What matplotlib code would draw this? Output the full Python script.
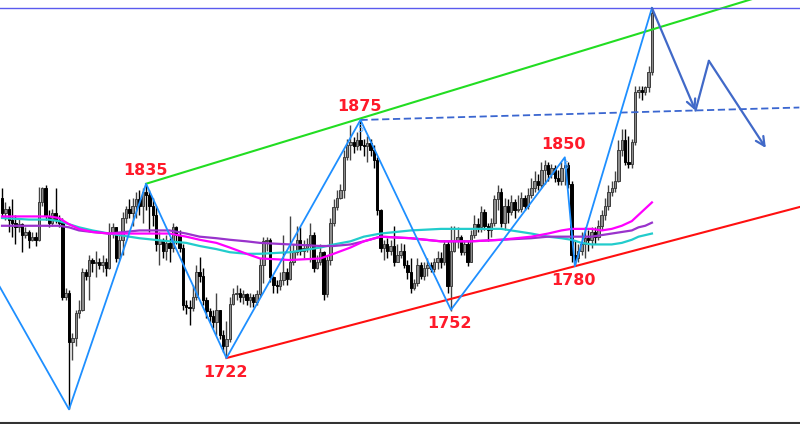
import numpy as np
import matplotlib
matplotlib.use('Agg')
import matplotlib.pyplot as plt

# Dados das velas (preco), abertura da primeira vela e fechamentos / maximas / minimas
first_open = 1825
closes = [1815, 1818, 1811, 1809, 1806, 1808, 1801, 1803, 1798, 1800,
          1798, 1822, 1831, 1813, 1809, 1815, 1811, 1809, 1761, 1764,
          1732, 1735, 1751, 1753, 1777, 1775, 1785, 1783, 1784, 1782,
          1784, 1780, 1802, 1806, 1786, 1798, 1812, 1818, 1815, 1820,
          1824, 1820, 1829, 1827, 1820, 1814, 1795, 1798, 1791, 1796,
          1793, 1806, 1801, 1793, 1756, 1755, 1754, 1761, 1777, 1775,
          1759, 1752, 1749, 1745, 1753, 1737, 1730, 1734, 1757, 1763,
          1764, 1761, 1763, 1759, 1761, 1758, 1763, 1782, 1797, 1798,
          1774, 1769, 1768, 1772, 1777, 1773, 1784, 1790, 1798, 1791,
          1793, 1795, 1801, 1780, 1784, 1790, 1763, 1785, 1809, 1819,
          1825, 1830, 1851, 1859, 1861, 1858, 1862, 1859, 1858, 1860,
          1856, 1849, 1817, 1793, 1795, 1791, 1794, 1784, 1788, 1791,
          1782, 1777, 1767, 1770, 1782, 1775, 1780, 1782, 1779, 1784,
          1786, 1784, 1795, 1768, 1791, 1797, 1800, 1790, 1795, 1784,
          1801, 1808, 1806, 1816, 1807, 1804, 1809, 1824, 1829, 1809,
          1820, 1816, 1822, 1817, 1818, 1825, 1820, 1827, 1831, 1836,
          1833, 1843, 1846, 1840, 1844, 1838, 1836, 1844, 1846, 1834,
          1788, 1786, 1791, 1795, 1799, 1798, 1803, 1800, 1807, 1814,
          1820, 1829, 1831, 1836, 1856, 1862, 1848, 1847, 1861, 1893,
          1894, 1893, 1896, 1906, 1944]
highs = [1831, 1822, 1820, 1824, 1814, 1812, 1809, 1806, 1804, 1803,
         1803, 1832, 1832, 1833, 1817, 1818, 1831, 1814, 1812, 1767,
         1766, 1738, 1753, 1759, 1780, 1779, 1788, 1786, 1791, 1786,
         1788, 1786, 1809, 1809, 1806, 1801, 1816, 1820, 1824, 1825,
         1829, 1830, 1831, 1833, 1830, 1825, 1820, 1803, 1799, 1801,
         1799, 1809, 1807, 1804, 1795, 1759, 1759, 1769, 1782, 1787,
         1780, 1761, 1754, 1753, 1764, 1753, 1740, 1746, 1761, 1767,
         1769, 1767, 1766, 1764, 1764, 1763, 1766, 1786, 1800, 1800,
         1799, 1775, 1772, 1777, 1801, 1780, 1813, 1795, 1807, 1806,
         1798, 1799, 1809, 1803, 1788, 1795, 1791, 1788, 1812, 1824,
         1830, 1834, 1856, 1863, 1872, 1864, 1867, 1875, 1863, 1865,
         1863, 1859, 1851, 1818, 1798, 1799, 1798, 1807, 1795, 1796,
         1795, 1785, 1786, 1773, 1786, 1784, 1784, 1786, 1784, 1786,
         1791, 1790, 1798, 1797, 1807, 1807, 1806, 1801, 1798, 1797,
         1804, 1814, 1812, 1820, 1818, 1809, 1812, 1827, 1833, 1831,
         1825, 1824, 1827, 1824, 1827, 1829, 1827, 1831, 1838, 1842,
         1840, 1848, 1849, 1848, 1847, 1846, 1843, 1848, 1850, 1848,
         1836, 1798, 1795, 1803, 1806, 1804, 1806, 1806, 1811, 1817,
         1825, 1833, 1836, 1842, 1862, 1869, 1869, 1865, 1863, 1897,
         1897, 1897, 1897, 1910, 1947]
lows = [1813, 1811, 1803, 1800, 1795, 1803, 1790, 1799, 1793, 1797,
        1794, 1797, 1820, 1811, 1806, 1807, 1809, 1806, 1759, 1759,
        1689, 1721, 1730, 1748, 1752, 1772, 1759, 1777, 1774, 1779,
        1777, 1775, 1779, 1799, 1784, 1785, 1788, 1809, 1812, 1807,
        1812, 1814, 1809, 1817, 1803, 1807, 1791, 1782, 1786, 1785,
        1784, 1790, 1795, 1790, 1753, 1750, 1743, 1752, 1759, 1771,
        1756, 1748, 1745, 1741, 1737, 1734, 1726, 1722, 1732, 1756,
        1759, 1758, 1757, 1756, 1755, 1755, 1756, 1761, 1770, 1791,
        1771, 1764, 1764, 1766, 1769, 1769, 1772, 1782, 1788, 1788,
        1786, 1790, 1784, 1777, 1779, 1782, 1759, 1761, 1782, 1807,
        1817, 1824, 1825, 1849, 1849, 1854, 1856, 1856, 1852, 1848,
        1852, 1844, 1814, 1790, 1785, 1786, 1788, 1781, 1784, 1786,
        1780, 1773, 1764, 1766, 1768, 1773, 1772, 1775, 1777, 1777,
        1779, 1780, 1782, 1764, 1752, 1790, 1793, 1788, 1788, 1781,
        1784, 1799, 1803, 1803, 1804, 1797, 1800, 1807, 1817, 1806,
        1804, 1809, 1814, 1812, 1816, 1816, 1817, 1818, 1825, 1829,
        1830, 1831, 1834, 1836, 1838, 1835, 1833, 1833, 1833, 1831,
        1784, 1781, 1784, 1788, 1786, 1791, 1793, 1795, 1798, 1804,
        1811, 1817, 1826, 1829, 1835, 1852, 1846, 1844, 1844, 1859,
        1889, 1888, 1891, 1893, 1904]

# Medias moveis
ma_idx = [0, 8, 14, 17, 20, 23, 27, 32, 41, 50, 55, 59, 64, 68, 73, 77,
          86, 95, 99, 104, 108, 113, 122, 131, 140, 149, 158, 163, 167,
          170, 173, 176, 179, 182, 185, 188, 190, 192, 194]
ma_magenta = [1813, 1813, 1813, 1812, 1808, 1805, 1803, 1802, 1802, 1802,
              1800, 1798, 1796, 1793, 1789, 1786, 1785, 1786, 1789, 1793,
              1797, 1800, 1799, 1797, 1797, 1798, 1800, 1802, 1804, 1805,
              1805, 1805, 1804, 1805, 1807, 1810, 1814, 1818, 1822]
ma_purple = [1807, 1807, 1807, 1807, 1806, 1804, 1803, 1802, 1804, 1804,
             1802, 1800, 1799, 1798, 1797, 1796, 1795, 1794, 1794, 1795,
             1797, 1800, 1799, 1797, 1797, 1798, 1799, 1800, 1800, 1800,
             1800, 1800, 1801, 1802, 1803, 1804, 1806, 1807, 1809]
ma_cyan = [1812, 1811, 1811, 1810, 1808, 1806, 1804, 1802, 1799, 1797,
           1796, 1794, 1792, 1790, 1789, 1789, 1790, 1793, 1795, 1797,
           1800, 1802, 1804, 1805, 1805, 1805, 1802, 1800, 1799, 1798,
           1796, 1795, 1795, 1795, 1796, 1798, 1800, 1801, 1802]

# Zigzag
zz_idx = [-1, 20, 43, 67, 107, 134, 168, 171, 194]
zz_price = [1769, 1689, 1834, 1722, 1875, 1753, 1851, 1781, 1947]
labels = ['1835', '1722', '1875', '1752', '1850', '1780']
label_pts = [2, 3, 4, 5, 6, 7]

# Linhas de tendencia
green_pts = [(43, 1834), (107, 1876)]
red_pts = [(67, 1722), (171, 1781)]
dash_pts = [(107, 1875), (238, 1883)]
top_level = 1947
proj_idx = [194, 207, 211, 228]
proj_price = [1947, 1881, 1913, 1857]

n = len(closes)
x = np.arange(n)
opens = [first_open] + closes[:-1]

fig = plt.figure(figsize=(8, 4.24), dpi=100)
ax = fig.add_axes([0, 0, 1, 1])
ax.set_xlim(-0.6, 238.2)
ax.set_ylim(1679.6, 1952.1)
ax.axis('off')

# velas
o = np.array(opens)
c = np.array(closes)
up = c >= o
ax.vlines(x[up], np.array(lows)[up], np.array(highs)[up], color='#444444', lw=1.0, zorder=2)
ax.vlines(x[~up], np.array(lows)[~up], np.array(highs)[~up], color='black', lw=1.0, zorder=2)
body_h = np.maximum(np.abs(c - o), 0.6)
ax.bar(x[up], body_h[up], bottom=np.minimum(o, c)[up], width=0.72,
       color='#8c8c8c', edgecolor='#3c3c3c', linewidth=0.7, zorder=3)
ax.bar(x[~up], body_h[~up], bottom=np.minimum(o, c)[~up], width=0.72,
       color='black', edgecolor='black', linewidth=0.7, zorder=3)

# medias moveis
ax.plot(ma_idx, ma_cyan, color='#22cccc', lw=1.6, zorder=4)
ax.plot(ma_idx, ma_purple, color='#9933cc', lw=1.6, zorder=4)
ax.plot(ma_idx, ma_magenta, color='#ff00ff', lw=1.6, zorder=4)

# linhas de tendencia
def extend(p, x_end):
    (x0, y0), (x1, y1) = p
    k = (y1 - y0) / (x1 - x0)
    return [x0, x_end], [y0, y0 + k * (x_end - x0)]

gx, gy = extend(green_pts, 240)
ax.plot(gx, gy, color='#22dd22', lw=1.5, zorder=5)
rx, ry = extend(red_pts, 240)
ax.plot(rx, ry, color='#ff1010', lw=1.5, zorder=5)
ax.plot([p[0] for p in dash_pts], [p[1] for p in dash_pts], color='#3a66d0',
        lw=1.3, ls=(0, (4, 2)), zorder=5)
ax.axhline(top_level, color='#5a5aee', lw=1.0, zorder=5)

# zigzag
ax.plot(zz_idx, zz_price, color='#1e8fff', lw=1.3, zorder=6)

# projecao
for k in range(3):
    style = '-' if k == 1 else '->'
    ax.annotate('', xy=(proj_idx[k + 1], proj_price[k + 1]),
                xytext=(proj_idx[k], proj_price[k]),
                arrowprops=dict(arrowstyle=style, color='#4169c8', lw=1.6,
                                shrinkA=0, shrinkB=0, mutation_scale=16),
                zorder=6)

# rotulos
for lab, k in zip(labels, label_pts):
    high = zz_price[k] > zz_price[k - 1]
    dy = 13 if high else -14
    ax.annotate(lab, (zz_idx[k], zz_price[k]), xytext=(-1, dy),
                textcoords='offset pixels', ha='center', va='center',
                color='#ff1a2a', fontsize=11.5, fontweight='bold', zorder=7)
    if high and lab in ('1875', '1850'):
        ax.annotate('5', (zz_idx[k], zz_price[k]), xytext=(0, -9),
                    textcoords='offset pixels', ha='center', va='center',
                    color='#55aaff', fontsize=7, zorder=7)

# borda inferior
ax.axhline(1680.2, color='#333333', lw=1.5)

plt.savefig('out.png', dpi=100)
